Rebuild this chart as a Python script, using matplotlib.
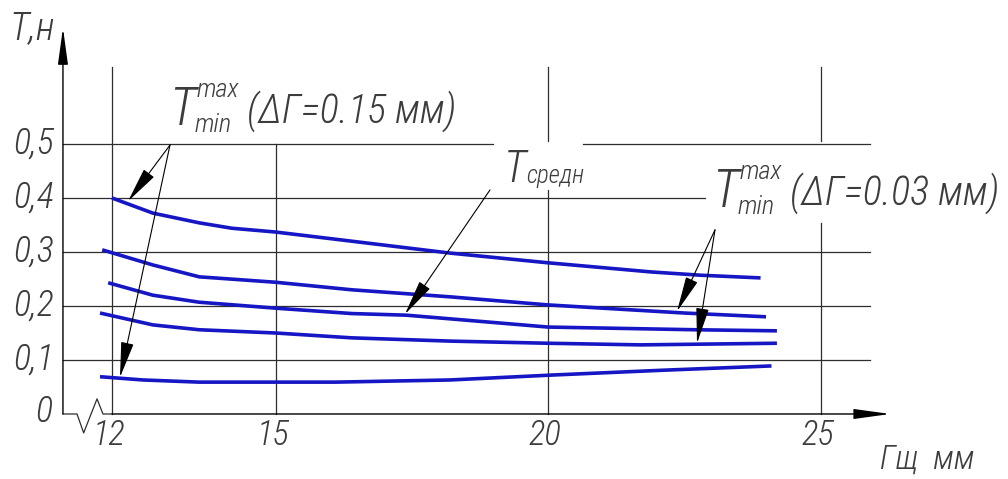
import matplotlib.pyplot as plt

plt.rcParams['font.family'] = ['Roboto Condensed', 'Noto Sans ExtraCondensed',
                               'Noto Sans Condensed', 'Liberation Sans Narrow',
                               'DejaVu Sans']
plt.rcParams['font.stretch'] = 'condensed'

# clearance G (mm) vs. T (N) for the five curves
g_top = [12.0, 12.75, 13.6, 14.2, 15.0, 16.4, 18.2, 20.0, 21.9, 22.8, 23.9]
t_top = [0.400, 0.372, 0.354, 0.344, 0.337, 0.320, 0.298, 0.280, 0.263, 0.257, 0.252]

g_2 = [11.82, 12.75, 13.6, 15.0, 16.4, 18.2, 20.0, 22.5, 24.0]
t_2 = [0.304, 0.276, 0.254, 0.244, 0.230, 0.217, 0.202, 0.187, 0.180]

g_mean = [11.93, 12.75, 13.6, 15.0, 16.4, 17.4, 20.0, 22.7, 24.2]
t_mean = [0.243, 0.220, 0.207, 0.196, 0.186, 0.183, 0.161, 0.156, 0.154]

g_4 = [11.78, 12.75, 13.6, 15.0, 16.4, 18.2, 20.0, 21.7, 24.2]
t_4 = [0.187, 0.165, 0.156, 0.150, 0.141, 0.135, 0.131, 0.128, 0.131]

g_bot = [11.78, 12.57, 13.6, 15.0, 16.1, 18.2, 20.05, 22.1, 24.1]
t_bot = [0.069, 0.063, 0.059, 0.059, 0.059, 0.063, 0.072, 0.081, 0.089]

y_ticks = [0.1, 0.2, 0.3, 0.4, 0.5]
y_labels = ['0,1', '0,2', '0,3', '0,4', '0,5']
x_ticks = [12, 15, 20, 25]
x_labels = ['12', '15', '20', '25']

BLUE = '#1616c4'
INK = '#2e2e2e'
TXT = '#3c3c3c'

fig = plt.figure(figsize=(10.08, 4.79), dpi=100)
ax = fig.add_axes([0, 0, 1, 1])
ax.set_xlim(9.945, 28.44)
ax.set_ylim(-0.1204, 0.7667)
ax.axis('off')

x_axis = 11.10
grid_end = 25.91
grid_top = 0.643

# horizontal grid
for y in y_ticks:
    if y == 0.4:
        ax.plot([x_axis, 22.88], [y, y], color=INK, lw=0.9)
    elif y == 0.5:
        ax.plot([x_axis, 18.99], [y, y], color=INK, lw=0.9)
        ax.plot([20.64, grid_end], [y, y], color=INK, lw=0.9)
    else:
        ax.plot([x_axis, grid_end], [y, y], color=INK, lw=0.9)

# vertical grid, broken where the labels sit
v_segments = {
    12: [(0, grid_top)],
    15: [(0, 0.5)],
    20: [(0, 0.415), (0.505, grid_top)],
    25: [(0, 0.354), (0.505, grid_top)],
}
for x in x_ticks:
    for y0, y1 in v_segments[x]:
        ax.plot([x, x], [y0, y1], color=INK, lw=0.9)

# axes with arrows and the break mark
head = '-|>,head_length=1.6,head_width=0.22'
ax.annotate('', xy=(x_axis, 0.715), xytext=(x_axis, 0),
            arrowprops=dict(arrowstyle=head, color='black', lw=1.0,
                            mutation_scale=14, shrinkA=0, shrinkB=0))
ax.plot([x_axis, 11.358, 11.48, 11.725, 11.835, 12.0],
        [0, 0, -0.035, 0.028, 0, 0], color=INK, lw=0.9)
ax.annotate('', xy=(26.28, 0), xytext=(12.0, 0),
            arrowprops=dict(arrowstyle=head, color='black', lw=1.0,
                            mutation_scale=14, shrinkA=0, shrinkB=0))

# curves
for g, t in [(g_top, t_top), (g_2, t_2), (g_mean, t_mean), (g_4, t_4), (g_bot, t_bot)]:
    ax.plot(g, t, color=BLUE, lw=2.6, solid_capstyle='butt')

# tick labels
txt = dict(style='italic', color=TXT, fontweight='light')
for y, lab in zip(y_ticks, y_labels):
    ax.text(10.93, y, lab, ha='right', va='center', fontsize=26, **txt)
ax.text(10.90, 0.004, '0', ha='right', va='center', fontsize=26, **txt)
for x, lab in zip(x_ticks, x_labels):
    ax.text(x - 0.05, -0.040, lab, ha='center', va='center', fontsize=25, **txt)

# axis titles
ax.text(10.12, 0.713, 'T,н', ha='left', va='center', fontsize=28, **txt)
ax.text(26.95, -0.085, 'Гщ  мм', ha='center', va='center', fontsize=24, **txt)

# labels
def tmaxmin(x, y, note):
    ax.text(x, y, 'T', ha='left', va='baseline', fontsize=38, **txt)
    ax.text(x + 0.50, y + 0.052, 'max', ha='left', va='baseline', fontsize=19, **txt)
    ax.text(x + 0.46, y - 0.013, 'min', ha='left', va='baseline', fontsize=19, **txt)
    ax.text(x + 1.42, y + 0.004, note, ha='left', va='baseline', fontsize=29, **txt)

tmaxmin(13.05, 0.535, '(ΔГ=0.15 мм)')
tmaxmin(23.02, 0.383, '(ΔГ=0.03 мм)')

ax.text(19.19, 0.430, 'T', ha='left', va='baseline', fontsize=32, **txt)
ax.text(19.60, 0.428, 'средн', ha='left', va='baseline', fontsize=18, **txt)

# leader arrows
lead = '-|>,head_length=1.4,head_width=0.25'
def leader(start, tip):
    ax.annotate('', xy=tip, xytext=start,
                arrowprops=dict(arrowstyle=lead, color='black', lw=0.8,
                                mutation_scale=16, shrinkA=0, shrinkB=0))

leader((13.064, 0.498), (12.294, 0.394))
leader((13.064, 0.498), (12.147, 0.068))
leader((18.936, 0.415), (17.376, 0.185))
leader((23.064, 0.341), (22.367, 0.190))
leader((23.064, 0.341), (22.734, 0.131))

fig.savefig('out.png', dpi=100)
